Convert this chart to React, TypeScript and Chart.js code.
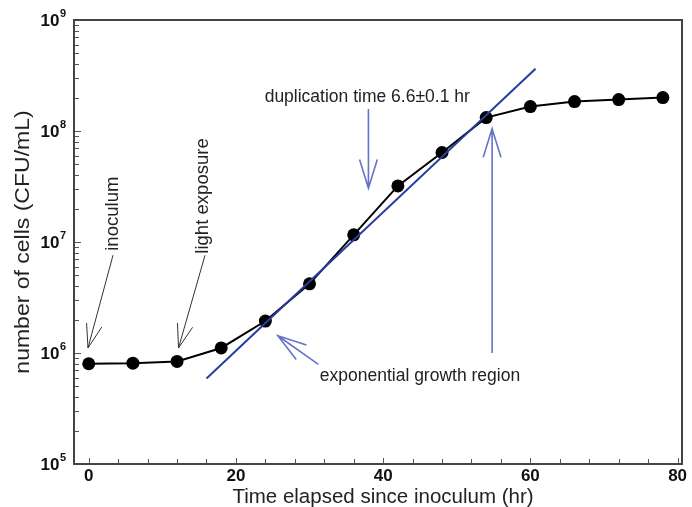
import React, { useEffect, useRef } from 'react';
import { Chart, registerables } from 'chart.js';

Chart.register(...registerables);

// ---- data ----
const hours = [0, 6, 12, 18, 24, 30, 36, 42, 48, 54, 60, 66, 72, 78];
const cells = [8.0e5, 8.1e5, 8.4e5, 1.11e6, 1.94e6, 4.2e6, 1.16e7, 3.2e7, 6.4e7, 1.32e8, 1.66e8, 1.84e8, 1.92e8, 2.0e8];
const fitHours = [16, 60.7];
const fitCells = [5.9e5, 3.64e8];

const xTickValues = [0, 20, 40, 60, 80];
const xTickLabels = ['0', '20', '40', '60', '80'];
const yTickValues = [1e5, 1e6, 1e7, 1e8, 1e9];
const yTickExponents = ['5', '6', '7', '8', '9'];

const xTitle = 'Time elapsed since inoculum (hr)';
const yTitle = 'number of cells (CFU/mL)';

// annotation anchors, in data units [hours, cells]
const arrowFrom = [[3.3, 7.6e6], [15.8, 7.6e6], [38, 1.58e8], [54.8, 1.0e6], [31.2, 7.9e5]];
const arrowTo = [[-0.1, 1.11e6], [12.2, 1.11e6], [38, 3.05e7], [54.8, 1.05e8], [25.7, 1.43e6]];
const arrowKinds = ['black', 'black', 'blue', 'blue', 'blue'];

const noteTexts = ['duplication time 6.6±0.1 hr', 'exponential growth region', 'inoculum', 'light exposure'];
const noteAt = [[23.9, 2.0e8], [45, 6.2e5], [3.3, 1.8e7], [15.6, 2.6e7]];
const noteAlign = ['left', 'center', 'center', 'center'];
const noteRotated = [false, false, true, true];

const FONT = "'Liberation Sans', Arial, Helvetica, sans-serif";

function drawText(ctx: CanvasRenderingContext2D, text: string, x: number, y: number, font: string,
  align: CanvasTextAlign, rotated: boolean, stretch: number) {
  ctx.save();
  ctx.translate(x, y);
  if (rotated) ctx.rotate(-Math.PI / 2);
  ctx.scale(stretch, 1);
  ctx.font = font;
  ctx.textAlign = align;
  ctx.textBaseline = 'middle';
  ctx.fillText(text, 0, 0);
  ctx.restore();
}

const framePlugin = {
  id: 'frameAndNotes',
  beforeDatasetsDraw(chart: any) {
    const { ctx, chartArea: a, scales } = chart;
    const xs = scales.x;
    const ys = scales.y;
    ctx.save();
    // ticks (inward)
    ctx.strokeStyle = '#555';
    ctx.lineWidth = 1;
    ctx.beginPath();
    for (let v = 0; v <= 80; v += 4) {
      const px = Math.round(xs.getPixelForValue(v)) + 0.5;
      const len = v % 20 === 0 ? 6 : 5;
      ctx.moveTo(px, a.bottom);
      ctx.lineTo(px, a.bottom - len);
    }
    for (let e = 5; e < 9; e++) {
      for (let m = 1; m <= 9; m++) {
        const val = m * Math.pow(10, e);
        const py = Math.round(ys.getPixelForValue(val)) + 0.5;
        const len = m === 1 ? 7 : 5;
        ctx.moveTo(a.left, py);
        ctx.lineTo(a.left + len, py);
      }
    }
    ctx.stroke();
    // frame
    ctx.strokeStyle = '#444';
    ctx.lineWidth = 2;
    ctx.strokeRect(a.left, a.top, a.right - a.left, a.bottom - a.top);

    // tick labels
    ctx.fillStyle = '#111';
    for (let i = 0; i < xTickValues.length; i++) {
      const px = xs.getPixelForValue(xTickValues[i]);
      drawText(ctx, xTickLabels[i], px, a.bottom + 12, `bold 17px ${FONT}`, 'center', false, 1);
    }
    for (let i = 0; i < yTickValues.length; i++) {
      const py = ys.getPixelForValue(yTickValues[i]);
      ctx.font = `bold 11px ${FONT}`;
      const supW = ctx.measureText(yTickExponents[i]).width;
      const right = a.left - 8;
      drawText(ctx, yTickExponents[i], right - supW, py - 6, `bold 11px ${FONT}`, 'left', false, 1);
      drawText(ctx, '10', right - supW - 0.5, py + 1, `bold 17px ${FONT}`, 'right', false, 1);
    }
    // axis titles
    ctx.fillStyle = '#222';
    drawText(ctx, xTitle, 383, 497, `20.5px ${FONT}`, 'center', false, 1);
    drawText(ctx, yTitle, 23, (a.top + a.bottom) / 2, `20px ${FONT}`, 'center', true, 1.15);
    ctx.restore();
  },
  afterDatasetsDraw(chart: any) {
    const { ctx, scales } = chart;
    const xs = scales.x;
    const ys = scales.y;
    ctx.save();
    // arrows
    for (let i = 0; i < arrowFrom.length; i++) {
      const x1 = xs.getPixelForValue(arrowFrom[i][0]);
      const y1 = ys.getPixelForValue(arrowFrom[i][1]);
      const x2 = xs.getPixelForValue(arrowTo[i][0]);
      const y2 = ys.getPixelForValue(arrowTo[i][1]);
      const blue = arrowKinds[i] === 'blue';
      ctx.strokeStyle = blue ? '#6673c9' : '#333';
      ctx.lineWidth = blue ? 1.6 : 1;
      const ang = Math.atan2(y1 - y2, x1 - x2);
      const len = blue ? 30 : 25;
      const half = blue ? 0.3 : 0.32;
      ctx.beginPath();
      ctx.moveTo(x1, y1);
      ctx.lineTo(x2, y2);
      ctx.moveTo(x2 + len * Math.cos(ang - half), y2 + len * Math.sin(ang - half));
      ctx.lineTo(x2, y2);
      ctx.lineTo(x2 + len * Math.cos(ang + half), y2 + len * Math.sin(ang + half));
      ctx.stroke();
    }
    // notes
    ctx.fillStyle = '#222';
    for (let i = 0; i < noteTexts.length; i++) {
      const px = xs.getPixelForValue(noteAt[i][0]);
      const py = ys.getPixelForValue(noteAt[i][1]);
      drawText(ctx, noteTexts[i], px, py, `17.5px ${FONT}`, noteAlign[i] as CanvasTextAlign,
        noteRotated[i], noteRotated[i] ? 1.06 : 1);
    }
    ctx.restore();
  },
};

export default function App() {
  const ref = useRef<HTMLCanvasElement | null>(null);
  useEffect(() => {
    if (!ref.current) return;
    const chart = new Chart(ref.current, {
      type: 'line',
      data: {
        datasets: [
          {
            data: hours.map((h, i) => ({ x: h, y: cells[i] })),
            borderColor: '#000',
            backgroundColor: '#000',
            borderWidth: 2,
            pointRadius: 6.5,
            pointBackgroundColor: '#000',
            pointBorderWidth: 0,
            tension: 0,
            order: 1,
          },
          {
            data: fitHours.map((h, i) => ({ x: h, y: fitCells[i] })),
            borderColor: '#2a3d9e',
            borderWidth: 2,
            pointRadius: 0,
            tension: 0,
            order: 0,
          },
        ],
      },
      options: {
        animation: false,
        responsive: true,
        maintainAspectRatio: false,
        layout: { padding: { left: 0, right: 10, top: 20, bottom: 0 } },
        plugins: { legend: { display: false }, tooltip: { enabled: false } },
        scales: {
          x: {
            type: 'linear',
            min: -2,
            max: 80.6,
            afterBuildTicks: (s: any) => {
              s.ticks = xTickValues.map((v) => ({ value: v }));
            },
            afterFit: (s: any) => {
              s.height = 43;
            },
            grid: { display: false, drawTicks: false },
            border: { display: false },
            ticks: { display: false },
            title: { display: false },
          },
          y: {
            type: 'logarithmic',
            min: 1e5,
            max: 1e9,
            afterBuildTicks: (s: any) => {
              s.ticks = yTickValues.map((v) => ({ value: v }));
            },
            afterFit: (s: any) => {
              s.width = 74;
            },
            grid: { display: false, drawTicks: false },
            border: { display: false },
            ticks: { display: false },
            title: { display: false },
          },
        },
      } as any,
      plugins: [framePlugin],
    });
    return () => chart.destroy();
  }, []);
  return (
    <div style={{ position: 'absolute', left: 0, top: 0, width: 692, height: 507, background: '#fff' }}>
      <canvas ref={ref} />
    </div>
  );
}
